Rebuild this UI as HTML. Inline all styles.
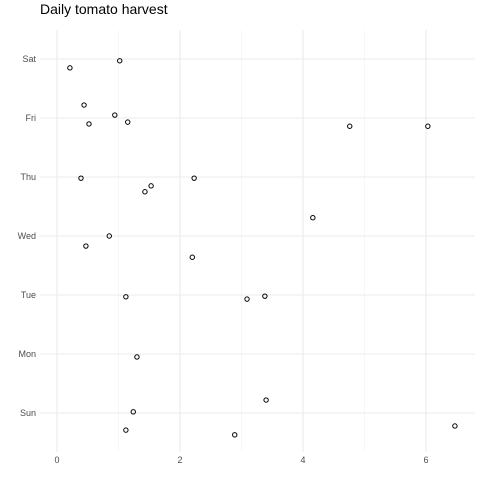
<!DOCTYPE html>
<html><head><meta charset="utf-8"><style>
body{margin:0;background:#fff;}
svg{display:block;font-family:"Liberation Sans",sans-serif;}
</style></head><body>
<svg id="chart" width="480" height="480">
<text x="40" y="14" font-size="14" fill="#000">Daily tomato harvest</text>
<g id="grid"></g><g id="pts"></g><g id="ticks"></g>
</svg>
<script>
const days = ["Sun","Mon","Tue","Wed","Thu","Fri","Sat"];
const xTicks = [0,2,4,6];
const xMinor = [1,3,5];
const xVals = [0.21,1.02, 0.44,0.94,0.52,1.15,4.76,6.03, 0.39,1.43,1.53,2.23, 0.85,0.47,2.20,4.16, 1.12,3.09,3.38, 1.30, 3.40,1.24,1.12,2.89,6.47];
const yVals = [5.85,5.97, 5.22,5.05,4.90,4.93,4.86,4.86, 3.98,3.75,3.85,3.98, 3.0,2.83,2.64,3.31, 1.97,1.93,1.98, 0.95, 0.22,0.02,-0.29,-0.37,-0.22];
const NS="http://www.w3.org/2000/svg";
const X = v => 57 + v*61.5;
const Y = v => 413 - v*59;
const L=40,R=475,T=30,B=452;
const grid=document.getElementById('grid'), pts=document.getElementById('pts'), ticks=document.getElementById('ticks');
function mk(tag,attrs,parent){const e=document.createElementNS(NS,tag);for(const k in attrs)e.setAttribute(k,attrs[k]);parent.appendChild(e);return e;}
xMinor.forEach(v=>{
  const ln=mk('line',{x1:X(v),x2:X(v),y1:T,y2:B,stroke:'#f2f2f2','stroke-width':0.6},grid);
  
  
});
xTicks.forEach(t=>{
  const ln=mk('line',{x1:X(t),x2:X(t),y1:T,y2:B,stroke:'#ebebeb','stroke-width':1.1},grid);
  
  
  const tx=mk('text',{x:X(t),y:463,'font-size':9,fill:'#4d4d4d','text-anchor':'middle'},ticks);
  tx.textContent=t;
  
  
});
days.forEach((d,i)=>{
  const ln=mk('line',{x1:L,x2:R,y1:Y(i),y2:Y(i),stroke:'#ebebeb','stroke-width':1.1},grid);
  
  
  const tx=mk('text',{x:36,y:Y(i)+3,'font-size':9,fill:'#4d4d4d','text-anchor':'end'},ticks);
  tx.textContent=d;
  
  
});
xVals.forEach((v,i)=>{
  const c=mk('circle',{cx:X(v),cy:Y(yVals[i]),r:2.2,fill:'none',stroke:'#000','stroke-width':1},pts);
  
  
});
</script>
</body></html>
